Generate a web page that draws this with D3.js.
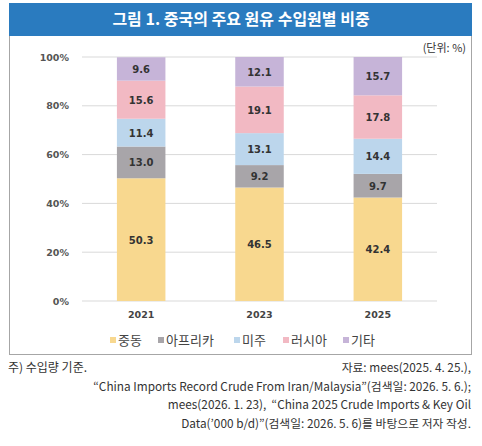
<!DOCTYPE html>
<html>
<head>
<meta charset="utf-8">
<script src="https://cdn.jsdelivr.net/npm/d3@7"></script>
<style>
  body { margin: 0; background: #fff; }
  svg { display: block; font-family: "Noto Sans CJK KR", "Noto Sans", sans-serif; }
</style>
</head>
<body>
<svg id="chart"></svg>
<script>
const width = 482, height = 446;

// data
const years = ["2021", "2023", "2025"];
const regions = ["중동", "아프리카", "미주", "러시아", "기타"];
const middleEast = [50.3, 46.5, 42.4];
const africa = [13.0, 9.2, 9.7];
const americas = [11.4, 13.1, 14.4];
const russia = [15.6, 19.1, 17.8];
const others = [9.6, 12.1, 15.7];
const yTicks = [0, 20, 40, 60, 80, 100];
const colors = ["#f8d88f", "#a8a5a9", "#bcd6ec", "#f2b9c3", "#c6b4d8"];

const rows = years.map((y, i) => ({
  year: y,
  "중동": middleEast[i], "아프리카": africa[i], "미주": americas[i],
  "러시아": russia[i], "기타": others[i]
}));

const svg = d3.select("#chart").attr("width", width).attr("height", height);

// frame + title bar
svg.append("rect")
  .attr("x", 9.5).attr("y", 3.5).attr("width", 462).attr("height", 351)
  .attr("fill", "#fff").attr("stroke", "#a6a6a6");
svg.append("rect")
  .attr("x", 9).attr("y", 3).attr("width", 463).attr("height", 33)
  .attr("fill", "#2a7bbf");
svg.append("text")
  .attr("x", 241).attr("y", 25)
  .attr("text-anchor", "middle")
  .attr("fill", "#fff").attr("font-size", 16).attr("font-weight", "bold")
  .text("그림 1. 중국의 주요 원유 수입원별 비중");

svg.append("text")
  .attr("x", 466).attr("y", 52)
  .attr("text-anchor", "end").attr("font-size", 11).attr("fill", "#333")
  .text("(단위: %)");

// scales
const xScale = d3.scaleBand().domain(years).range([82, 437]).paddingInner(0.59).paddingOuter(0.295);
const yScale = d3.scaleLinear().domain([0, 100]).range([301, 57]);

// grid lines
svg.append("g")
  .selectAll("line")
  .data(yTicks)
  .join("line")
  .attr("x1", 82).attr("x2", 437)
  .attr("y1", d => yScale(d)).attr("y2", d => yScale(d))
  .attr("stroke", "#d9d9d9");

// y axis
const yAxis = svg.append("g")
  .attr("transform", "translate(72,0)")
  .call(d3.axisLeft(yScale).tickValues(yTicks).tickFormat(d => d + "%").tickSize(0));
yAxis.select(".domain").remove();
yAxis.selectAll("text")
  .attr("font-family", "DejaVu Sans, sans-serif")
  .attr("font-size", 9.5).attr("font-weight", "bold").attr("fill", "#555");

// x axis
const xAxis = svg.append("g")
  .attr("transform", "translate(0,308)")
  .call(d3.axisBottom(xScale).tickSize(0));
xAxis.select(".domain").remove();
xAxis.selectAll("text")
  .attr("font-family", "DejaVu Sans, sans-serif")
  .attr("font-size", 9.5).attr("font-weight", "bold").attr("fill", "#444");

// stacked bars
const stacked = d3.stack().keys(regions)(rows);
const layers = svg.append("g")
  .selectAll("g")
  .data(stacked)
  .join("g")
  .attr("fill", (d, i) => colors[i]);

layers.selectAll("rect")
  .data(d => d)
  .join("rect")
  .attr("x", d => xScale(d.data.year))
  .attr("width", xScale.bandwidth())
  .attr("y", d => yScale(d[1]))
  .attr("height", d => yScale(d[0]) - yScale(d[1]));

// value labels in the middle of each segment
layers.selectAll("text")
  .data(d => d.map(p => ({ p: p, key: d.key })))
  .join("text")
  .attr("x", d => xScale(d.p.data.year) + xScale.bandwidth() / 2)
  .attr("y", d => yScale((d.p[0] + d.p[1]) / 2) + 4)
  .attr("text-anchor", "middle")
  .attr("font-family", "DejaVu Sans, sans-serif")
  .attr("font-size", 10).attr("font-weight", "bold").attr("fill", "#333")
  .text(d => d.p.data[d.key].toFixed(1));

// legend
const legendX = [110, 158, 234, 283, 343];
const legend = svg.append("g")
  .selectAll("g")
  .data(regions)
  .join("g")
  .attr("transform", (d, i) => "translate(" + legendX[i] + ",340)");
legend.append("rect")
  .attr("x", 0).attr("y", -3).attr("width", 6).attr("height", 6)
  .attr("fill", (d, i) => colors[i]);
legend.append("text")
  .attr("x", 8).attr("y", 5)
  .attr("font-size", 13).attr("fill", "#444")
  .text(d => d);

// notes under the frame
svg.append("text")
  .attr("x", 8).attr("y", 372)
  .attr("font-size", 12).attr("fill", "#333")
  .text("주) 수입량 기준.");

const sourceLines = [
  "자료: mees(2025. 4. 25.),",
  "“China Imports Record Crude From Iran/Malaysia”(검색일: 2026. 5. 6.);",
  "mees(2026. 1. 23),  “China 2025 Crude Imports & Key Oil",
  "Data(’000 b/d)”(검색일: 2026. 5. 6)를 바탕으로 저자 작성."
];
svg.append("g")
  .selectAll("text")
  .data(sourceLines)
  .join("text")
  .attr("x", 471).attr("y", (d, i) => 372 + i * 18.5)
  .attr("text-anchor", "end")
  .attr("font-size", 11.8).attr("fill", "#333")
  .attr("xml:space", "preserve")
  .text(d => d);
</script>
</body>
</html>
